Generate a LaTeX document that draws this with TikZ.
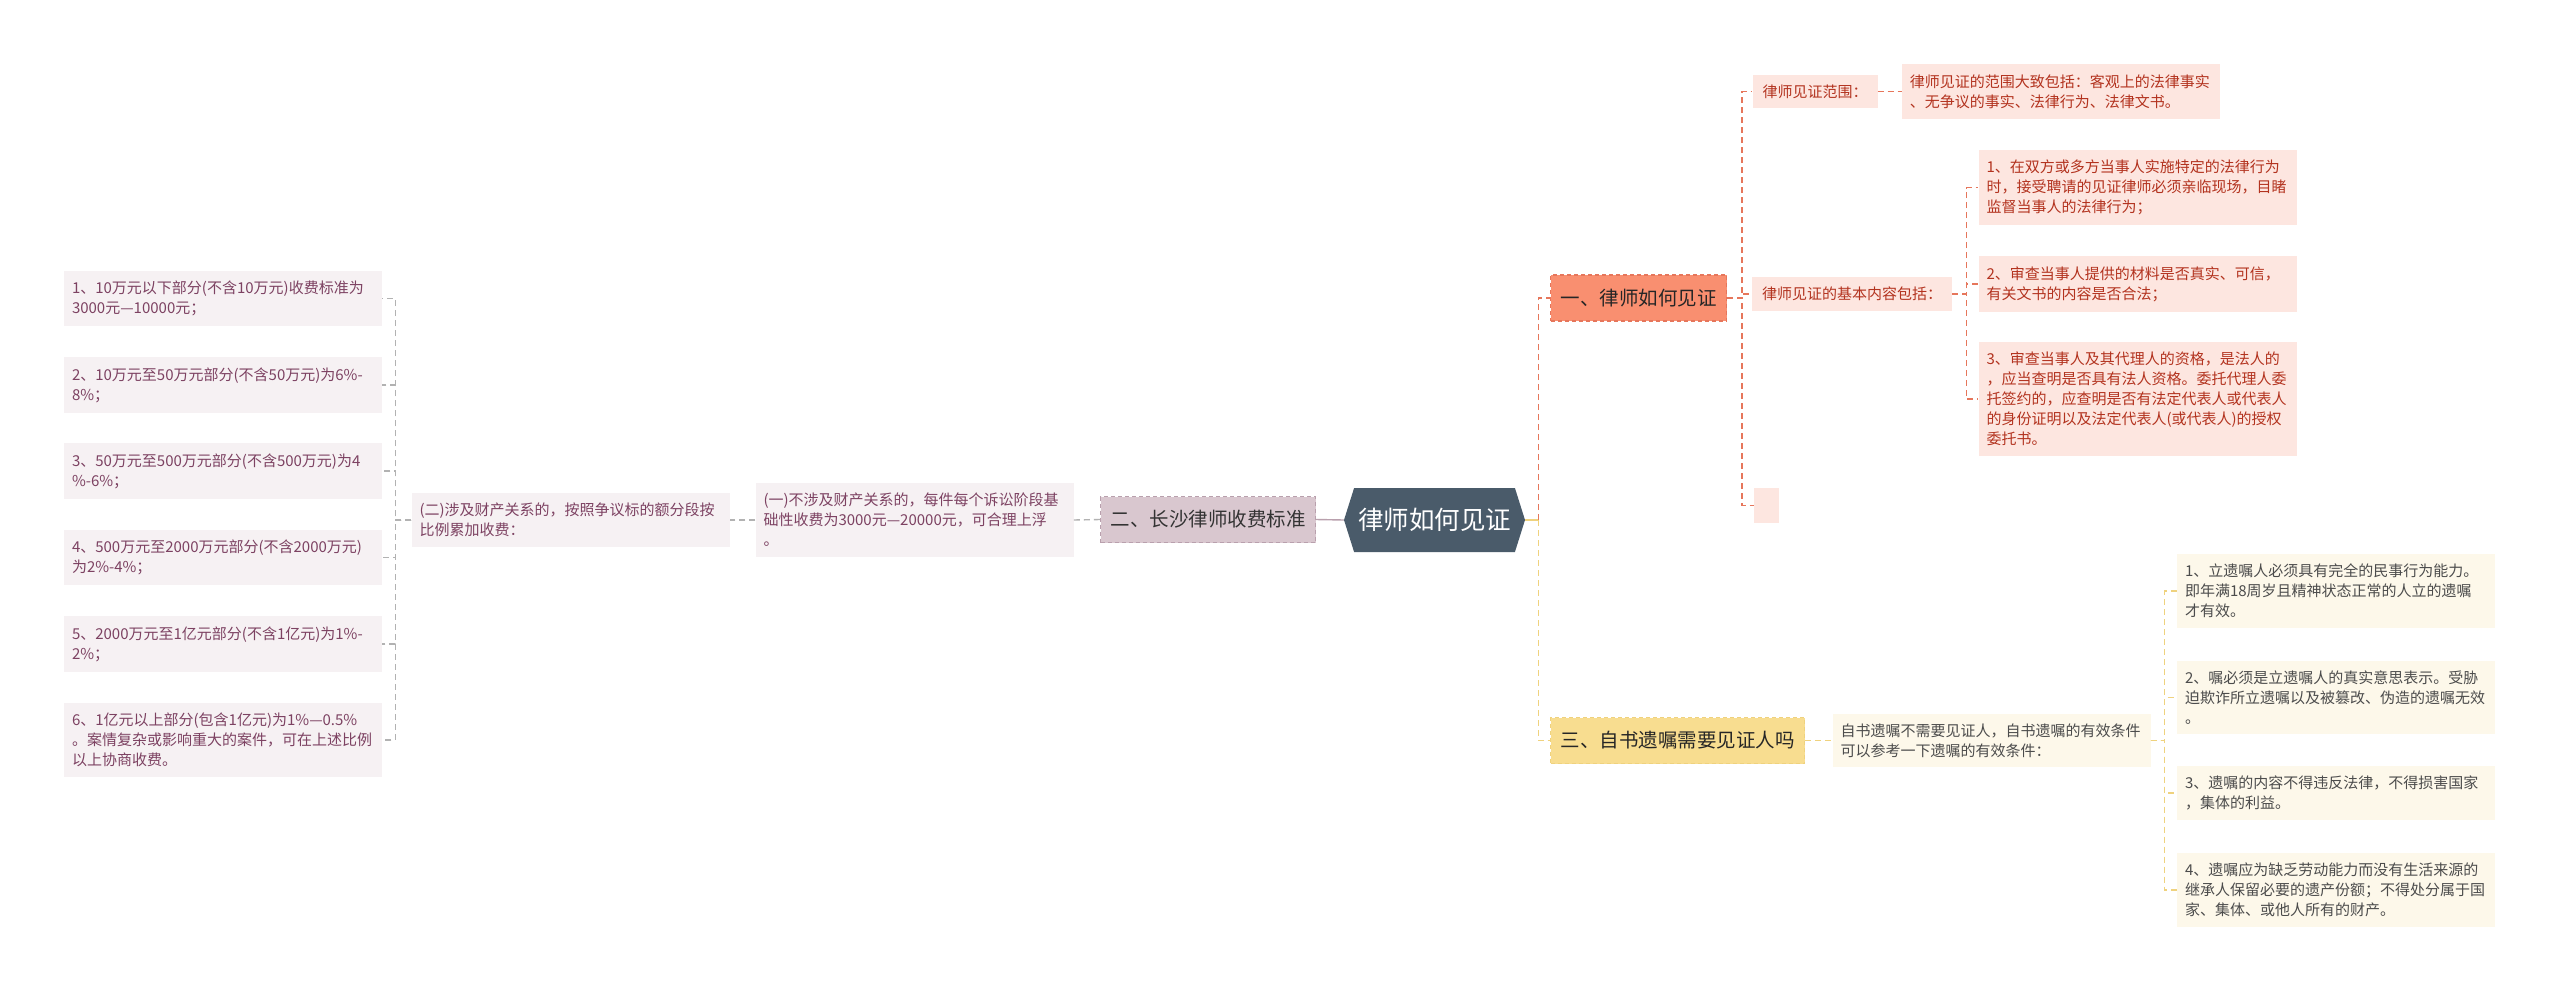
\documentclass[tikz,border=0pt]{standalone}
\usepackage{fontspec}
\usepackage{tikz}
\usetikzlibrary{positioning, shapes.symbols}
\newfontfamily\cjk{Noto Sans CJK SC}
\definecolor{rootfill}{HTML}{4A5B6A}
\definecolor{mauve}{HTML}{D9C7CF}
\definecolor{mauveline}{HTML}{B9A0AD}
\definecolor{mauveleaf}{HTML}{F6F1F3}
\definecolor{mauvetext}{HTML}{7D4262}
\definecolor{salmon}{HTML}{F98F70}
\definecolor{salmonline}{HTML}{E6765B}
\definecolor{salmonleaf}{HTML}{FDE6E0}
\definecolor{salmontext}{HTML}{B3331F}
\definecolor{sand}{HTML}{F8DD90}
\definecolor{sandline}{HTML}{EFD27E}
\definecolor{sandleaf}{HTML}{FDF8EA}

\begin{document}
\begin{tikzpicture}[x=1pt, y=-1pt,
    node distance=24pt,
    leaf/.style={align=left, text width=302pt, inner xsep=8pt, inner ysep=10pt, font=\cjk\fontsize{15}{20}\selectfont},
    tag/.style={inner xsep=10pt, inner ysep=10pt, font=\cjk\fontsize{15}{20}\selectfont},
    branch/.style={draw, dashed, dash pattern=on 4pt off 3pt, line width=1.2pt, minimum height=46pt, inner xsep=10pt, inner ysep=0pt, font=\cjk\fontsize{19.5}{22}\selectfont},
    lnk/.style={dashed, dash pattern=on 6pt off 4pt, line width=1.4pt}]
  \useasboundingbox[fill=white] (0,0) rectangle (2560,991);

  % centre
  \node[shape=signal, signal to=west and east, signal pointer angle=145, fill=rootfill, text=white,
        minimum width=181pt, minimum height=64pt, inner sep=0pt, font=\cjk\fontsize{25.5}{28}\selectfont] (root) at (1434.5,520) {律师如何见证};

  % left: fees
  \node[branch, fill=mauve, draw=mauveline, text=black!80] (fee) at (1208,519.5) {二、长沙律师收费标准};
  \node[leaf, fill=mauveleaf, text=mauvetext] (fa) at (914.5,520) {(一)不涉及财产关系的，每件每个诉讼阶段基\\础性收费为3000元—20000元，可合理上浮\\。};
  \node[leaf, fill=mauveleaf, text=mauvetext] (fb) at (570.5,520) {(二)涉及财产关系的，按照争议标的额分段按\\比例累加收费：};
  \node[leaf, fill=mauveleaf, text=mauvetext] (fb1) at (223,298.5) {1、10万元以下部分(不含10万元)收费标准为\\3000元—10000元；};
  \node[leaf, fill=mauveleaf, text=mauvetext] (fb2) at (223,385) {2、10万元至50万元部分(不含50万元)为6\%-\\8\%；};
  \node[leaf, fill=mauveleaf, text=mauvetext] (fb3) at (223,471) {3、50万元至500万元部分(不含500万元)为4\\\%-6\%；};
  \node[leaf, fill=mauveleaf, text=mauvetext] (fb4) at (223,557.5) {4、500万元至2000万元部分(不含2000万元)\\为2\%-4\%；};
  \node[leaf, fill=mauveleaf, text=mauvetext] (fb5) at (223,644) {5、2000万元至1亿元部分(不含1亿元)为1\%-\\2\%；};
  \node[leaf, fill=mauveleaf, text=mauvetext] (fb6) at (223,740) {6、1亿元以上部分(包含1亿元)为1\%—0.5\%\\。案情复杂或影响重大的案件，可在上述比例\\以上协商收费。};

  % right top: witnessing
  \node[branch, fill=salmon, draw=salmonline, text=black!85] (wit) at (1638.5,298) {一、律师如何见证};
  \node[tag, fill=salmonleaf, text=salmontext] (scope) at (1815,91.5) {律师见证范围：};
  \node[leaf, fill=salmonleaf, text=salmontext, right=of scope] (scopetx) {律师见证的范围大致包括：客观上的法律事实\\、无争议的事实、法律行为、法律文书。};
  \node[tag, fill=salmonleaf, text=salmontext] (basic) at (1852,294) {律师见证的基本内容包括：};
  \node[leaf, fill=salmonleaf, text=salmontext] (ba1) at (2137.5,187.5) {1、在双方或多方当事人实施特定的法律行为\\时，接受聘请的见证律师必须亲临现场，目睹\\监督当事人的法律行为；};
  \node[leaf, fill=salmonleaf, text=salmontext] (ba2) at (2137.5,284) {2、审查当事人提供的材料是否真实、可信，\\有关文书的内容是否合法；};
  \node[leaf, fill=salmonleaf, text=salmontext] (ba3) at (2137.5,399) {3、审查当事人及其代理人的资格，是法人的\\，应当查明是否具有法人资格。委托代理人委\\托签约的，应查明是否有法定代表人或代表人\\的身份证明以及法定代表人(或代表人)的授权\\委托书。};
  \node[fill=salmonleaf, minimum width=25pt, minimum height=35pt, inner sep=0pt] (blank) at (1766.5,505.5) {};

  % right bottom: will
  \node[branch, fill=sand, draw=sandline, text=black!85] (will) at (1677.5,740.5) {三、自书遗嘱需要见证人吗};
  \node[leaf, fill=sandleaf, text=black!70] (wl) at (1991.5,740.5) {自书遗嘱不需要见证人，自书遗嘱的有效条件\\可以参考一下遗嘱的有效条件：};
  \node[leaf, fill=sandleaf, text=black!70] (wl1) at (2336,591) {1、立遗嘱人必须具有完全的民事行为能力。\\即年满18周岁且精神状态正常的人立的遗嘱\\才有效。};
  \node[leaf, fill=sandleaf, text=black!70] (wl2) at (2336,697.5) {2、嘱必须是立遗嘱人的真实意思表示。受胁\\迫欺诈所立遗嘱以及被篡改、伪造的遗嘱无效\\。};
  \node[leaf, fill=sandleaf, text=black!70] (wl3) at (2336,793) {3、遗嘱的内容不得违反法律，不得损害国家\\，集体的利益。};
  \node[leaf, fill=sandleaf, text=black!70] (wl4) at (2336,890) {4、遗嘱应为缺乏劳动能力而没有生活来源的\\继承人保留必要的遗产份额；不得处分属于国\\家、集体、或他人所有的财产。};

  % connectors
  \draw[line width=1.4pt, mauveline] (root.west) -- (fee.east);
  \draw[lnk, black!30] (fee.west) -- (fa.east);
  \draw[lnk, black!30] (fa.west) -- (fb.east);
  \foreach \i in {1,...,6}
    \draw[lnk, black!30] (fb.west) -- ++(-16,0) |- (fb\i.east);

  \coordinate (hub) at ([xshift=13pt]root.east);
  \draw[line width=1.4pt, sandline] (root.east) -- (hub);
  \draw[lnk, salmonline] (hub) |- (wit.west);
  \draw[lnk, sandline] (hub) |- (will.west);

  \foreach \n in {scope, basic, blank}
    \draw[lnk, salmonline] (wit.east) -- ++(15,0) |- (\n.west);
  \draw[lnk, salmonline] (scope.east) -- (scopetx.west);
  \foreach \i in {1,2,3}
    \draw[lnk, salmonline] (basic.east) -- ++(14,0) |- (ba\i.west);

  \draw[lnk, sandline] (will.east) -- (wl.west);
  \foreach \i in {1,...,4}
    \draw[lnk, sandline] (wl.east) -- ++(14,0) |- (wl\i.west);
\end{tikzpicture}
\end{document}
